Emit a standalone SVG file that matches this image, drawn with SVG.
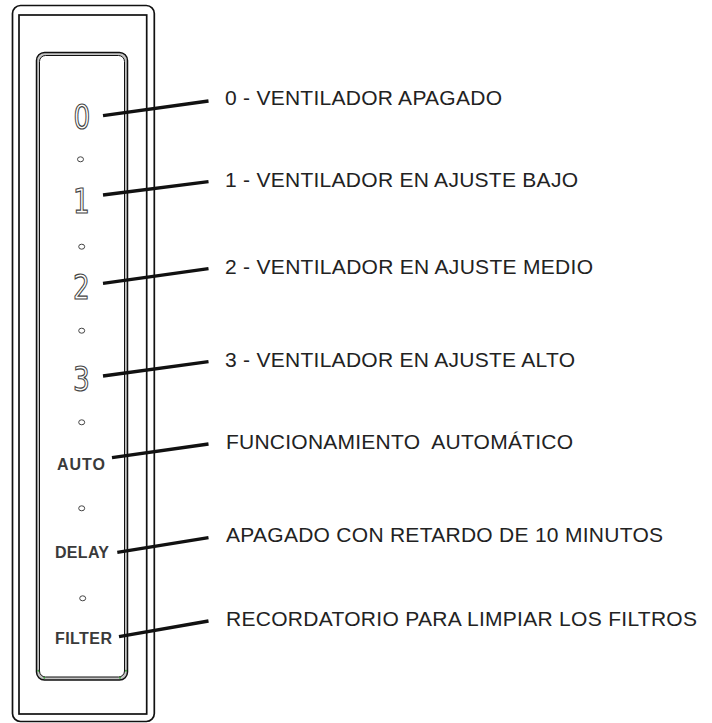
<svg xmlns="http://www.w3.org/2000/svg" width="712" height="723" viewBox="0 0 712 723">
<style>
.frame{fill:none;stroke:#111;stroke-width:1.7}
.digit{font-family:"DejaVu Sans",sans-serif;font-size:33px;fill:#fff;stroke:#444;stroke-width:1.2;text-anchor:middle}
.word{font-family:"Liberation Sans",Arial,sans-serif;font-size:16px;font-weight:bold;fill:#3a3a3a}
.dot{fill:#fff;stroke:#444;stroke-width:1}
.label{font-family:"Liberation Sans",Arial,sans-serif;font-size:21px;fill:#222}
.leader{stroke:#111;stroke-width:3.3;stroke-linecap:butt}
.green{fill:#3a9a3a}
</style>
<rect width="712" height="723" fill="#fff"/>
<g id="device">
  <rect class="frame" x="12.5" y="5.5" width="141.8" height="716" rx="8"/>
  <rect class="frame" x="19" y="15" width="127.7" height="699"/>
  <rect x="36.5" y="52.5" width="91" height="627.5" rx="8" fill="#c4c4c4" stroke="#111" stroke-width="1.5"/>
  <rect x="39.5" y="55.5" width="85" height="621.5" rx="6" fill="#fff" stroke="#111" stroke-width="1"/>
  <circle class="green" cx="38.3" cy="670.7" r="1"/>
  <circle class="green" cx="44.3" cy="677.7" r="1"/>
  <circle class="green" cx="120" cy="677.7" r="1"/>
  <circle class="green" cx="126" cy="670.7" r="1"/>
</g>
<g id="panel">
  <g id="btn0"><text class="digit" transform="translate(82,129.3) scale(0.8,1)">0</text></g>
  <ellipse class="dot" cx="80.5" cy="159.3" rx="3" ry="2.5"/>
  <g id="btn1"><text class="digit" transform="translate(81.5,213.3) scale(0.8,1)">1</text></g>
  <ellipse class="dot" cx="81.7" cy="246.7" rx="3" ry="2.5"/>
  <g id="btn2"><text class="digit" transform="translate(81.5,299.3) scale(0.8,1)">2</text></g>
  <ellipse class="dot" cx="81.7" cy="330.7" rx="3" ry="2.5"/>
  <g id="btn3"><text class="digit" transform="translate(81.5,390.7) scale(0.8,1)">3</text></g>
  <ellipse class="dot" cx="81.7" cy="422.3" rx="3" ry="2.5"/>
  <g id="btnAuto"><text class="word" x="57" y="470" textLength="48">AUTO</text></g>
  <ellipse class="dot" cx="81.7" cy="508.3" rx="3" ry="2.5"/>
  <g id="btnDelay"><text class="word" x="55" y="557.5" textLength="54">DELAY</text></g>
  <ellipse class="dot" cx="82.7" cy="598.3" rx="3" ry="2.5"/>
  <g id="btnFilter"><text class="word" x="55" y="644" textLength="57">FILTER</text></g>
</g>
<g id="connectors">
  <line class="leader" x1="103" y1="115.7" x2="208.5" y2="101"/>
  <line class="leader" x1="103" y1="195" x2="208.5" y2="181.7"/>
  <line class="leader" x1="103" y1="283.3" x2="208.5" y2="268.7"/>
  <line class="leader" x1="103" y1="376" x2="208.5" y2="361.7"/>
  <line class="leader" x1="112" y1="457.7" x2="208.5" y2="444"/>
  <line class="leader" x1="117.3" y1="552.3" x2="208.5" y2="537.7"/>
  <line class="leader" x1="119" y1="636.7" x2="208.5" y2="621"/>
</g>
<g id="labels">
  <g id="label0"><text class="label" x="225" y="105" textLength="277">0 - VENTILADOR APAGADO</text></g>
  <g id="label1"><text class="label" x="225" y="186.5" textLength="353">1 - VENTILADOR EN AJUSTE BAJO</text></g>
  <g id="label2"><text class="label" x="225" y="274" textLength="368">2 - VENTILADOR EN AJUSTE MEDIO</text></g>
  <g id="label3"><text class="label" x="225" y="367" textLength="350">3 - VENTILADOR EN AJUSTE ALTO</text></g>
  <g id="labelAuto"><text class="label" x="226" y="449" textLength="347" xml:space="preserve" style="white-space:pre">FUNCIONAMIENTO  AUTOMÁTICO</text></g>
  <g id="labelDelay"><text class="label" x="226" y="542" textLength="437">APAGADO CON RETARDO DE 10 MINUTOS</text></g>
  <g id="labelFilter"><text class="label" x="226" y="625.5" textLength="471">RECORDATORIO PARA LIMPIAR LOS FILTROS</text></g>
</g>
</svg>
